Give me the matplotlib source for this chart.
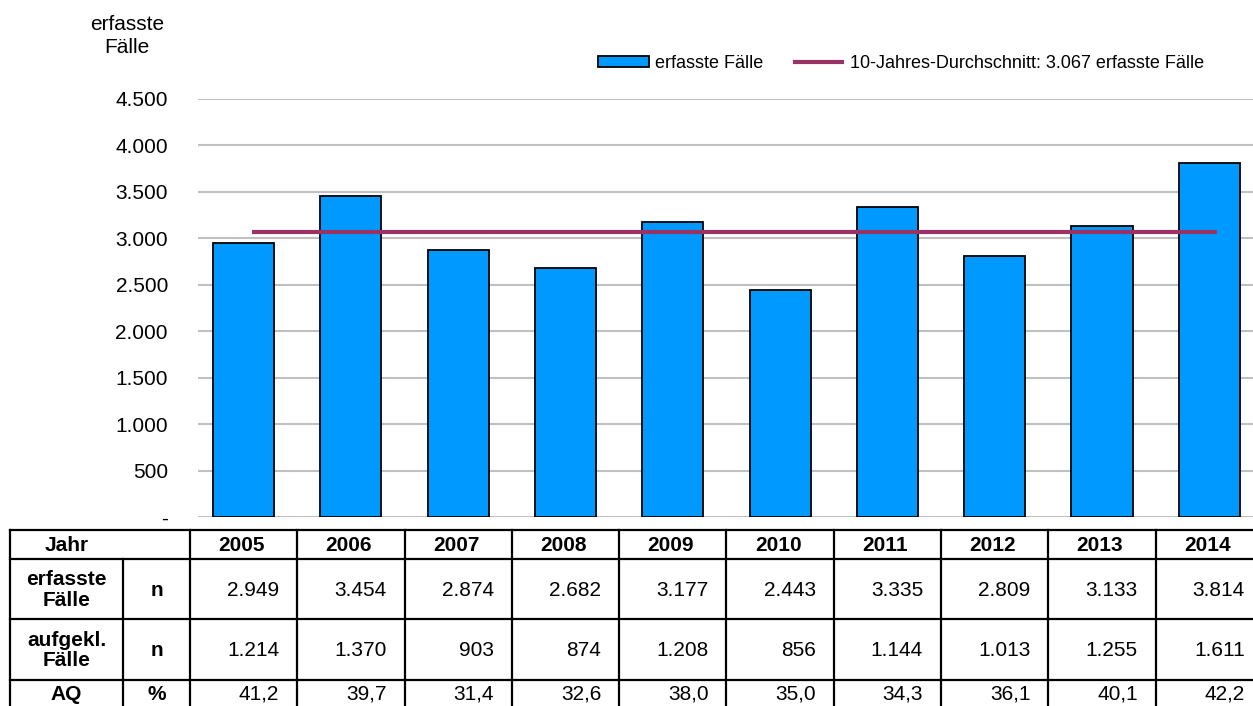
import matplotlib
matplotlib.use("Agg")
import matplotlib.pyplot as plt
from matplotlib.lines import Line2D
import matplotlib.transforms as mtransforms

# ---------------- data ----------------
years = ["2005", "2006", "2007", "2008", "2009", "2010", "2011", "2012", "2013", "2014"]
erfasste = [2949, 3454, 2874, 2682, 3177, 2443, 3335, 2809, 3133, 3814]
aufgeklaert = [1214, 1370, 903, 874, 1208, 856, 1144, 1013, 1255, 1611]
aq = [41.2, 39.7, 31.4, 32.6, 38.0, 35.0, 34.3, 36.1, 40.1, 42.2]
avg_value = 3067
yticks = [0, 500, 1000, 1500, 2000, 2500, 3000, 3500, 4000, 4500]
ytick_labels = ["-", "500", "1.000", "1.500", "2.000", "2.500", "3.000", "3.500", "4.000", "4.500"]

# ---------------- style ----------------
plt.rcParams["font.family"] = ["Liberation Sans", "DejaVu Sans"]
BAR_COLOR = "#0099FF"
AVG_COLOR = "#993366"
GRID_COLOR = "#C0C0C0"
FS = 15

W, H = 1253, 706
fig = plt.figure(figsize=(W / 100, H / 100), dpi=100)

# layout in pixels
AX_L, AX_R, AX_T, AX_B = 198, 1253, 99, 517
STEP = 107.3
XLIM0 = -0.425
XLIM1 = XLIM0 + (AX_R - AX_L) / STEP

ax = fig.add_axes([AX_L / W, 1 - AX_B / H, (AX_R - AX_L) / W, (AX_B - AX_T) / H])
x = list(range(len(years)))
bars = ax.bar(x, erfasste, width=0.57, color=BAR_COLOR, edgecolor="black", linewidth=1.3,
              zorder=3, label="erfasste Fälle")
offset = mtransforms.ScaledTranslation(8 / 100, 0, fig.dpi_scale_trans)
avg_line, = ax.plot([x[0], x[-1]], [avg_value, avg_value], color=AVG_COLOR, linewidth=3,
                    zorder=4, solid_capstyle="butt", transform=ax.transData + offset,
                    label="10-Jahres-Durchschnitt: 3.067 erfasste Fälle")
ax.set_xlim(XLIM0, XLIM1)
ax.set_ylim(0, 4500)
ax.set_yticks(yticks)
ax.set_yticklabels(ytick_labels, fontsize=FS)
ax.set_xticks([])
ax.tick_params(axis="y", length=0, pad=21.6)
ax.yaxis.grid(True, color=GRID_COLOR, linewidth=1.5, zorder=0)
ax.set_axisbelow(True)
for s in ax.spines.values():
    s.set_visible(False)

# y-axis title
fig.text(127 / W, 1 - 15 / H, "erfasste\nFälle", ha="center", va="top",
         fontsize=FS, linespacing=1.25)

# legend
leg = fig.legend([bars, avg_line],
                 ["erfasste Fälle", "10-Jahres-Durchschnitt: 3.067 erfasste Fälle"],
                 loc="center", bbox_to_anchor=(901 / W, 1 - 63 / H),
                 ncol=2, frameon=False, fontsize=13, handlelength=2.83,
                 handleheight=0.55, handletextpad=0.33, columnspacing=1.6,
                 borderpad=0)

# ---------------- table ----------------
tab = fig.add_axes([0, 0, 1, 1], zorder=5)
tab.set_xlim(0, W)
tab.set_ylim(H, 0)
tab.axis("off")

col_bounds = [10, 123] + [AX_L + (i - 0.5 - XLIM0) * STEP for i in range(len(years) + 1)]
row_bounds = [530, 559, 619, 680, 712]
LW = 1.6

def hline(y, x0, x1):
    tab.add_line(Line2D([x0, x1], [y, y], color="black", linewidth=LW, clip_on=False))

def vline(xp, y0, y1):
    tab.add_line(Line2D([xp, xp], [y0, y1], color="black", linewidth=LW, clip_on=False))

for yb in row_bounds:
    hline(yb, col_bounds[0], col_bounds[-1])
for k, xb in enumerate(col_bounds):
    if k == 1:
        vline(xb, row_bounds[1], row_bounds[-1])
    else:
        vline(xb, row_bounds[0], row_bounds[-1])

def cell_center(r):
    return (row_bounds[r] + row_bounds[r + 1]) / 2

# header row
tab.text((col_bounds[0] + col_bounds[1]) / 2, cell_center(0) + 1, "Jahr",
         ha="center", va="center", fontsize=FS, fontweight="bold")
for i, yr in enumerate(years):
    xc = (col_bounds[i + 2] + col_bounds[i + 3]) / 2
    tab.text(xc - 2, cell_center(0) + 1, yr, ha="center", va="center",
             fontsize=FS, fontweight="bold")

row_labels = ["erfasste\nFälle", "aufgekl.\nFälle", "AQ"]
row_units = ["n", "n", "%"]
row_values = [
    [f"{v:,}".replace(",", ".") for v in erfasste],
    [f"{v:,}".replace(",", ".") for v in aufgeklaert],
    [f"{v:.1f}".replace(".", ",") for v in aq],
]
for r in range(3):
    yc = cell_center(r + 1)
    if r == 2:
        yc = (row_bounds[3] + 706) / 2
    tab.text((col_bounds[0] + col_bounds[1]) / 2, yc + 1, row_labels[r], ha="center",
             va="center", fontsize=FS, fontweight="bold", linespacing=1.12)
    tab.text((col_bounds[1] + col_bounds[2]) / 2, yc + 1, row_units[r], ha="center",
             va="center", fontsize=FS, fontweight="bold")
    for i, val in enumerate(row_values[r]):
        xr = col_bounds[i + 3] - 18
        tab.text(xr, yc + 1, val, ha="right", va="center", fontsize=FS)

fig.savefig("out.png", dpi=100)
